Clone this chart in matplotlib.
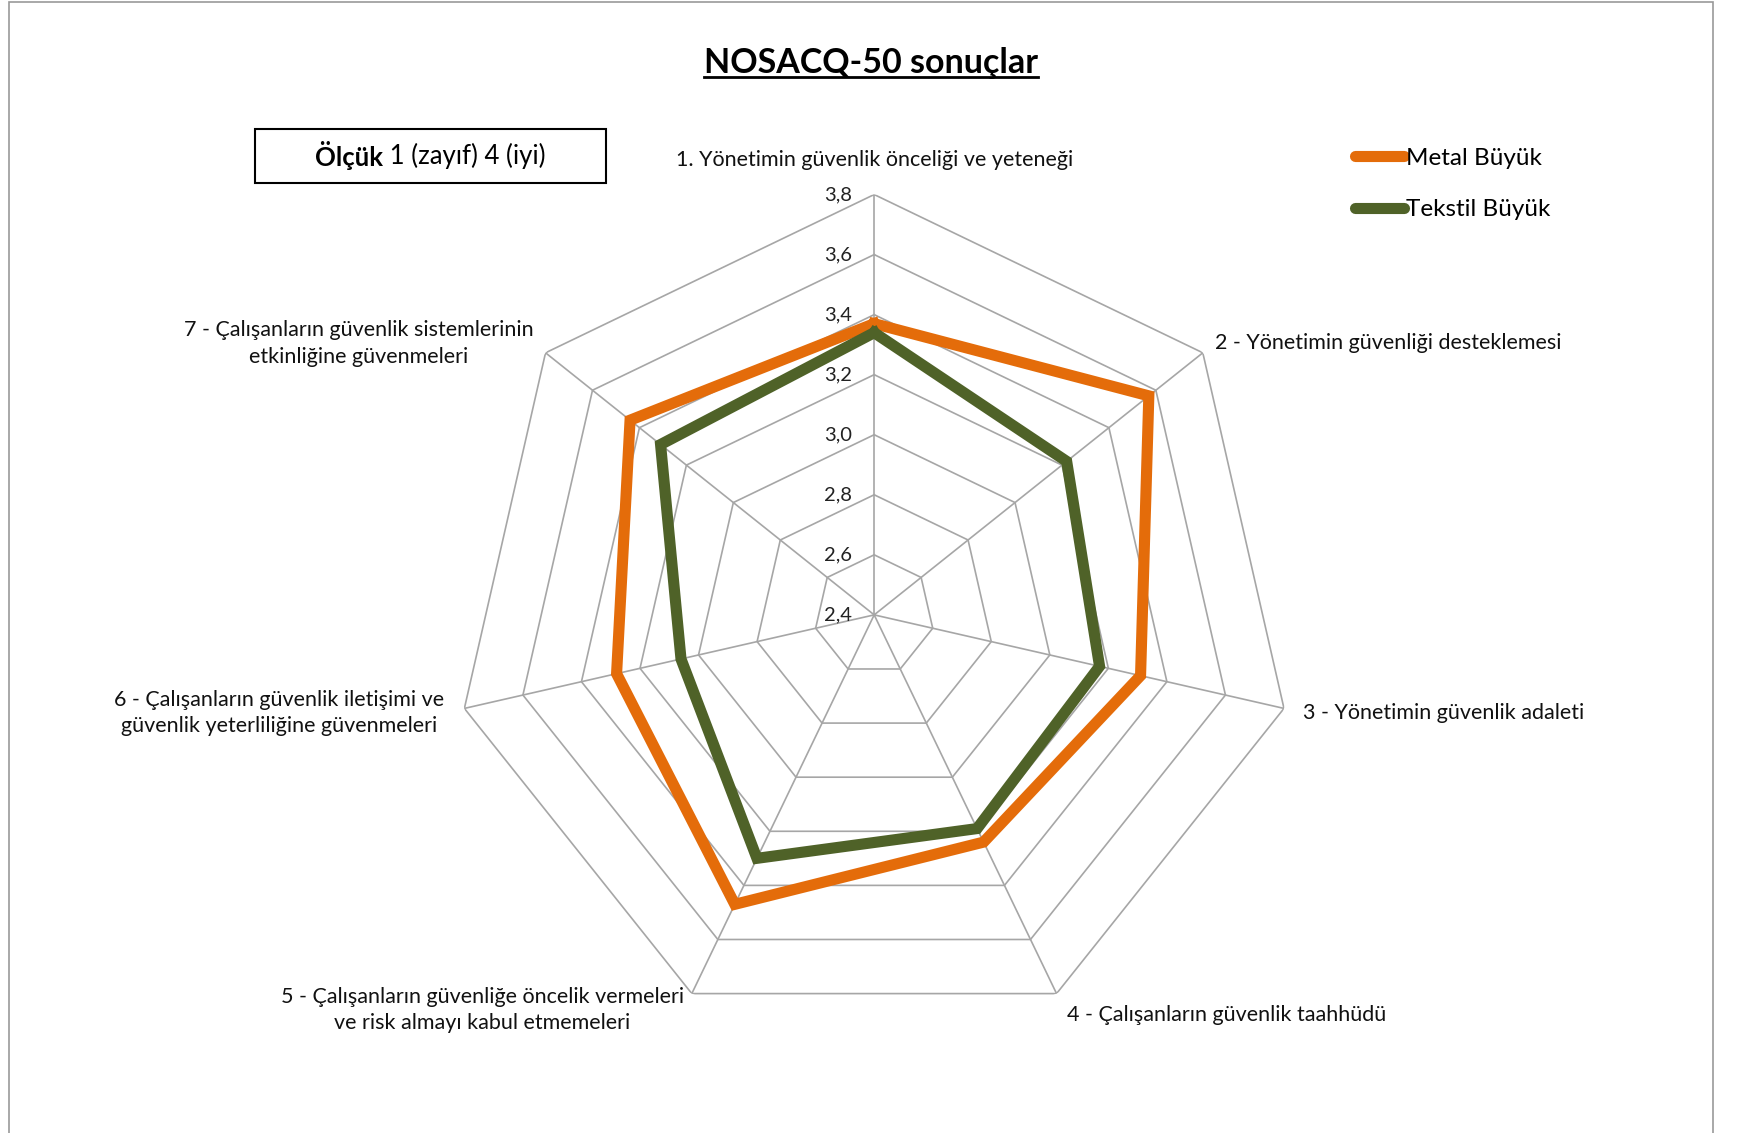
import numpy as np
import matplotlib
matplotlib.use('Agg')
import matplotlib.pyplot as plt
from matplotlib.patches import Rectangle
from matplotlib.lines import Line2D

plt.rcParams['font.family'] = ['Lato', 'DejaVu Sans']

categories = [
    "1. Yönetimin güvenlik önceliği ve yeteneği",
    "2 - Yönetimin güvenliği desteklemesi",
    "3 - Yönetimin güvenlik adaleti",
    "4 - Çalışanların güvenlik taahhüdü",
    "5 - Çalışanların güvenliğe öncelik vermeleri\nve risk almayı kabul etmemeleri",
    "6 - Çalışanların güvenlik iletişimi ve\ngüvenlik yeterliliğine güvenmeleri",
    "7 - Çalışanların güvenlik sistemlerinin\netkinliğine güvenmeleri",
]
metal = [3.37, 3.57, 3.31, 3.24, 3.47, 3.28, 3.44]
tekstil = [3.34, 3.22, 3.17, 3.19, 3.30, 3.06, 3.31]
ticks = [2.4, 2.6, 2.8, 3.0, 3.2, 3.4, 3.6, 3.8]
tick_labels = ["2,4", "2,6", "2,8", "3,0", "3,2", "3,4", "3,6", "3,8"]

orange = '#E46C0A'
green = '#4F6228'
grid_c = '#A6A6A6'

fig = plt.figure(figsize=(17.44, 11.33), dpi=100)
ax = fig.add_axes([0.2602, 0.0863, 0.4821, 0.742], projection='polar')
ax.set_theta_offset(np.pi / 2)
ax.set_theta_direction(-1)
ax.set_ylim(2.4, 3.8)
ax.grid(False)
ax.spines['polar'].set_visible(False)
ax.set_xticks([])
ax.set_yticks([])
ax.patch.set_alpha(0)

n = len(categories)
theta = np.arange(n) * 2 * np.pi / n
theta_c = np.append(theta, theta[0])

# polygon grid
for lv in ticks[1:]:
    ax.plot(theta_c, [lv] * (n + 1), color=grid_c, lw=1.2, zorder=1)
for t in theta:
    ax.plot([t, t], [2.4, 3.8], color=grid_c, lw=1.2, zorder=1)

# tick labels
for v, s in zip(ticks, tick_labels):
    ax.annotate(s, xy=(0, v), xytext=(-16, 0), textcoords='offset points',
                ha='right', va='center', fontsize=14.5, color='#222222',
                annotation_clip=False)

# series
ax.plot(theta_c, metal + metal[:1], color=orange, lw=8,
        solid_joinstyle='miter', zorder=3, label='Metal Büyük')
ax.plot(theta_c, tekstil + tekstil[:1], color=green, lw=8,
        solid_joinstyle='miter', zorder=4, label='Tekstil Büyük')

# category labels
lab_r = [3.915, 3.85, 3.865, 3.88, 3.86, 3.87, 3.85]
lab_ha = ['center', 'left', 'left', 'left', 'right', 'right', 'right']
for t, lab, r, ha in zip(theta, categories, lab_r, lab_ha):
    ax.text(t, r, lab, ha=ha, va='center', multialignment='center',
            fontsize=15.5, color='#111111', linespacing=1.4)

# legend
handles = [Line2D([], [], color=orange, lw=8, solid_capstyle='round'),
           Line2D([], [], color=green, lw=8, solid_capstyle='round')]
fig.legend(handles, ['Metal Büyük', 'Tekstil Büyük'], loc='upper left',
           bbox_to_anchor=(0.7715, 0.878), frameon=False, fontsize=17.5,
           handlelength=2.0, handletextpad=0.1, labelspacing=1.25,
           borderaxespad=0)

# title with underline
title = fig.text(0.4994, 0.944, 'NOSACQ-50 sonuçlar', ha='center', va='center',
                 fontsize=24.5, fontweight='bold', color='black')

# scale box
fig.add_artist(Rectangle((0.1460, 0.8381), 0.2016, 0.0481, transform=fig.transFigure,
                         fill=False, edgecolor='black', lw=1.5))
t1 = fig.text(0.2, 0.8626, 'Ölçük', ha='left', va='center', fontsize=18.5,
              fontweight='bold', color='black')
t2 = fig.text(0.3, 0.8626, ' 1 (zayıf) 4 (iyi)', ha='left', va='center',
              fontsize=18.5, color='black')

# chart-area border
fig.add_artist(Rectangle((0.0051, -0.05), 0.977, 1.048, transform=fig.transFigure,
                         fill=False, edgecolor='#999999', lw=1.2))

fig.canvas.draw()
r = fig.canvas.get_renderer()
W, H = fig.bbox.width, fig.bbox.height
b1 = t1.get_window_extent(r)
b2 = t2.get_window_extent(r)
total = b1.width + b2.width
x0 = (0.1460 + 0.2016 / 2) - total / 2 / W
t1.set_x(x0)
t2.set_x(x0 + b1.width / W)

bt = title.get_window_extent(r)
fig.add_artist(Line2D([bt.x0 / W, bt.x1 / W], [bt.y0 / H + 0.002, bt.y0 / H + 0.002],
                      transform=fig.transFigure, color='black', lw=2))

fig.savefig('out.png', dpi=100)
